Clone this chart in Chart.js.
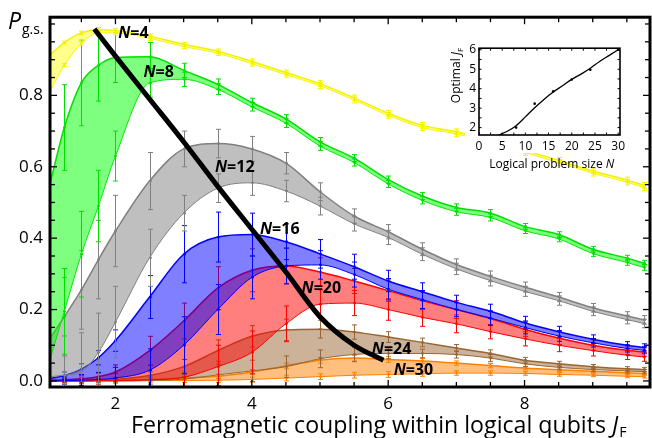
<!DOCTYPE html>
<html>
<head>
<meta charset="utf-8">
<script src="https://cdn.jsdelivr.net/npm/chart.js@4.4.1/dist/chart.umd.min.js"></script>
<style>
  body { margin: 0; background: #fff; }
  #wrap { position: relative; width: 652px; height: 438px; }
  #inset { position: absolute; left: 440px; top: 38px; }
</style>
</head>
<body>
<div id="wrap">
  <canvas id="myChart" width="652" height="438"></canvas>
  <canvas id="inset" width="200" height="135"></canvas>
</div>
<script>
const FONT = "'Open Sans', 'DejaVu Sans', sans-serif";

// coupling J_F where the bands are sampled (points drawn from index 1 on)
const jf = [1.05, 1.25, 1.5, 1.75, 2, 2.5, 3, 3.5, 4, 4.5, 5, 5.5, 6, 6.5, 7, 7.5, 8, 8.5, 9, 9.5, 9.75];

// ground state probability: upper edge, lower edge and error bar half size per problem size
const n4Up  = [0.915, 0.948, 0.975, 0.984, 0.982, 0.966, 0.943, 0.924, 0.895, 0.864, 0.833, 0.793, 0.750, 0.716, 0.698, 0.674, 0.646, 0.618, 0.588, 0.563, 0.548];
const n4Lo  = [0.815, 0.885, 0.945, 0.975, 0.975, 0.960, 0.937, 0.918, 0.889, 0.858, 0.827, 0.787, 0.744, 0.710, 0.692, 0.668, 0.640, 0.612, 0.582, 0.557, 0.542];
const n4Err = [0, 0.004, 0.005, 0.006, 0.006, 0.006, 0.006, 0.006, 0.007, 0.007, 0.008, 0.008, 0.008, 0.008, 0.008, 0.008, 0.008, 0.008, 0.008, 0.008, 0.008];

const n8Up  = [0.560, 0.710, 0.835, 0.884, 0.906, 0.908, 0.870, 0.831, 0.780, 0.734, 0.670, 0.624, 0.564, 0.518, 0.486, 0.470, 0.433, 0.410, 0.369, 0.344, 0.330];
const n8Lo  = [0.067, 0.195, 0.355, 0.490, 0.630, 0.835, 0.845, 0.817, 0.768, 0.722, 0.658, 0.612, 0.552, 0.506, 0.474, 0.458, 0.421, 0.398, 0.357, 0.332, 0.318];
const n8Err = [0, 0.12, 0.12, 0.10, 0.07, 0.04, 0.02, 0.015, 0.012, 0.012, 0.012, 0.01, 0.01, 0.01, 0.01, 0.01, 0.008, 0.008, 0.008, 0.008, 0.008];

const n12Up  = [0.122, 0.180, 0.255, 0.340, 0.420, 0.560, 0.650, 0.665, 0.650, 0.610, 0.530, 0.462, 0.418, 0.369, 0.326, 0.293, 0.263, 0.235, 0.205, 0.182, 0.171];
const n12Lo  = [0.012, 0.016, 0.025, 0.080, 0.165, 0.345, 0.470, 0.540, 0.555, 0.532, 0.490, 0.440, 0.402, 0.355, 0.314, 0.281, 0.251, 0.225, 0.195, 0.172, 0.161];
const n12Err = [0, 0.11, 0.11, 0.11, 0.10, 0.08, 0.05, 0.04, 0.035, 0.03, 0.025, 0.02, 0.02, 0.018, 0.016, 0.015, 0.014, 0.013, 0.012, 0.012, 0.012];

const n16Up  = [0.007, 0.015, 0.033, 0.065, 0.113, 0.235, 0.355, 0.403, 0.410, 0.390, 0.356, 0.320, 0.280, 0.250, 0.220, 0.195, 0.163, 0.138, 0.117, 0.100, 0.094];
const n16Lo  = [0.000, 0.001, 0.002, 0.004, 0.008, 0.030, 0.100, 0.200, 0.290, 0.322, 0.325, 0.298, 0.257, 0.228, 0.200, 0.176, 0.150, 0.126, 0.107, 0.091, 0.086];
const n16Err = [0, 0.01, 0.015, 0.02, 0.03, 0.06, 0.08, 0.07, 0.06, 0.05, 0.04, 0.035, 0.03, 0.025, 0.02, 0.02, 0.018, 0.015, 0.012, 0.01, 0.01];

const n20Up  = [0.002, 0.003, 0.006, 0.012, 0.025, 0.085, 0.168, 0.260, 0.310, 0.322, 0.305, 0.280, 0.253, 0.225, 0.200, 0.175, 0.145, 0.120, 0.100, 0.086, 0.081];
const n20Lo  = [0.000, 0.000, 0.000, 0.001, 0.001, 0.003, 0.010, 0.040, 0.080, 0.160, 0.215, 0.218, 0.200, 0.178, 0.160, 0.138, 0.118, 0.100, 0.085, 0.072, 0.067];
const n20Err = [0, 0.005, 0.008, 0.01, 0.02, 0.04, 0.05, 0.06, 0.06, 0.05, 0.04, 0.035, 0.03, 0.025, 0.025, 0.02, 0.02, 0.018, 0.015, 0.012, 0.012];

const n24Up  = [0.000, 0.000, 0.000, 0.002, 0.004, 0.015, 0.040, 0.085, 0.125, 0.143, 0.145, 0.137, 0.123, 0.108, 0.092, 0.077, 0.058, 0.048, 0.040, 0.034, 0.032];
const n24Lo  = [0.000, 0.000, 0.000, 0.000, 0.000, 0.001, 0.005, 0.017, 0.028, 0.040, 0.062, 0.074, 0.077, 0.077, 0.074, 0.064, 0.048, 0.038, 0.032, 0.028, 0.026];
const n24Err = [0, 0.002, 0.003, 0.004, 0.006, 0.01, 0.02, 0.03, 0.03, 0.03, 0.025, 0.02, 0.015, 0.012, 0.01, 0.01, 0.008, 0.007, 0.006, 0.006, 0.006];

const n30Up  = [0.000, 0.000, 0.000, 0.001, 0.002, 0.004, 0.008, 0.013, 0.025, 0.042, 0.058, 0.064, 0.060, 0.056, 0.050, 0.043, 0.036, 0.031, 0.027, 0.023, 0.021];
const n30Lo  = [0.000, 0.000, 0.000, 0.000, 0.000, 0.001, 0.001, 0.002, 0.004, 0.008, 0.012, 0.016, 0.018, 0.020, 0.022, 0.022, 0.021, 0.018, 0.016, 0.013, 0.012];
const n30Err = [0, 0.002, 0.002, 0.003, 0.003, 0.004, 0.005, 0.006, 0.007, 0.008, 0.008, 0.008, 0.008, 0.007, 0.006, 0.006, 0.005, 0.005, 0.004, 0.004, 0.004];

// optimal coupling curve (thick black)
const optJ = [1.69, 2, 2.5, 3, 3.5, 4, 4.5, 5, 5.5, 5.93];
const optP = [0.986, 0.91, 0.79, 0.67, 0.545, 0.425, 0.305, 0.18, 0.1, 0.058];

// inset: optimal J_F vs logical problem size
const insetN = [8, 12, 16, 20, 24, 30];
const insetJ = [2.0, 3.23, 3.86, 4.47, 4.97, 6.0];
const fitN = [4.3, 6, 8, 10, 12, 14, 16, 18, 20, 22, 24, 26, 28, 30];
const fitJ = [1.62, 1.8, 2.1, 2.55, 3.02, 3.45, 3.83, 4.15, 4.48, 4.75, 5.05, 5.4, 5.7, 6.0];

// ticks
const xTickLabels = [2, 4, 6, 8];
const yTickLabels = [0, 0.2, 0.4, 0.6, 0.8];
const insetXLabels = [0, 5, 10, 15, 20, 25, 30];
const insetYLabels = [2, 3, 4, 5, 6];

const bands = [
  { size: 4,  up: n4Up,  lo: n4Lo,  err: n4Err,  line: '#f2f200', fill: 'rgba(255,255,0,0.45)', at: [2.04, 0.961] },
  { size: 8,  up: n8Up,  lo: n8Lo,  err: n8Err,  line: '#00e000', fill: 'rgba(0,255,0,0.5)',    at: [2.41, 0.852] },
  { size: 12, up: n12Up, lo: n12Lo, err: n12Err, line: '#808080', fill: 'rgba(128,128,128,0.5)', at: [3.46, 0.586] },
  { size: 16, up: n16Up, lo: n16Lo, err: n16Err, line: '#0000ff', fill: 'rgba(0,0,255,0.5)',    at: [4.12, 0.411] },
  { size: 20, up: n20Up, lo: n20Lo, err: n20Err, line: '#ff0000', fill: 'rgba(255,0,0,0.5)',    at: [4.73, 0.246] },
  { size: 24, up: n24Up, lo: n24Lo, err: n24Err, line: '#996633', fill: 'rgba(153,102,51,0.5)', at: [5.76, 0.076] },
  { size: 30, up: n30Up, lo: n30Lo, err: n30Err, line: '#ff8000', fill: 'rgba(255,128,0,0.5)',  at: [6.08, 0.0165] },
];

const datasets = [];
bands.slice().reverse().forEach((b, k) => {
  datasets.push({
    data: jf.map((x, i) => ({ x, y: b.lo[i] })),
    borderColor: b.line, borderWidth: 1, pointRadius: 0, fill: false,
    cubicInterpolationMode: 'monotone', order: 100 - 2 * k,
  });
  datasets.push({
    data: jf.map((x, i) => ({ x, y: b.up[i] })),
    borderColor: b.line, borderWidth: 1.5, pointRadius: 0, fill: '-1',
    backgroundColor: b.fill, cubicInterpolationMode: 'monotone', order: 99 - 2 * k,
    bars: b,
  });
});
datasets.push({
  data: optJ.map((x, i) => ({ x, y: optP[i] })),
  borderColor: '#000', borderWidth: 5, pointRadius: 0, fill: false,
  cubicInterpolationMode: 'monotone', borderCapStyle: 'butt', order: 0,
});

function line(ctx, x0, y0, x1, y1) {
  ctx.beginPath(); ctx.moveTo(x0, y0); ctx.lineTo(x1, y1); ctx.stroke();
}
const near = (list, v) => list.some(t => Math.abs(t - v) < 1e-6);

const decor = {
  id: 'decor',
  afterDatasetDraw(chart, args) {
    const b = chart.data.datasets[args.index].bars;
    if (!b) return;
    const { ctx, chartArea: a, scales: { x, y } } = chart;
    ctx.save();
    ctx.beginPath(); ctx.rect(a.left, a.top, a.right - a.left, a.bottom - a.top); ctx.clip();
    ctx.strokeStyle = b.line; ctx.fillStyle = b.line; ctx.lineWidth = 1;
    for (let i = 1; i < jf.length; i++) {
      const px = Math.round(x.getPixelForValue(jf[i])) + 0.5;
      [b.up[i], b.lo[i]].forEach(v => {
        const y0 = y.getPixelForValue(v - b.err[i]);
        const y1 = y.getPixelForValue(v + b.err[i]);
        ctx.beginPath();
        ctx.moveTo(px, y0); ctx.lineTo(px, y1);
        ctx.moveTo(px - 2.5, y0); ctx.lineTo(px + 2.5, y0);
        ctx.moveTo(px - 2.5, y1); ctx.lineTo(px + 2.5, y1);
        ctx.stroke();
        ctx.beginPath(); ctx.arc(px, y.getPixelForValue(v), 1.4, 0, Math.PI * 2); ctx.fill();
      });
    }
    ctx.restore();
  },
  afterDraw(chart) {
    const { ctx, chartArea: a, scales: { x, y } } = chart;
    ctx.save();
    ctx.strokeStyle = '#000';
    ctx.lineWidth = 1.3;
    x.ticks.forEach(t => {
      const px = x.getPixelForValue(t.value);
      const len = near(xTickLabels, t.value) ? 7 : 5;
      line(ctx, px, a.bottom, px, a.bottom - len);
      line(ctx, px, a.top, px, a.top + len);
    });
    y.ticks.forEach(t => {
      const py = y.getPixelForValue(t.value);
      const len = near(yTickLabels, t.value) ? 7 : 5;
      line(ctx, a.left, py, a.left + len, py);
      line(ctx, a.right, py, a.right - len, py);
    });
    ctx.lineWidth = 3;
    ctx.strokeRect(a.left, a.top, a.right - a.left, a.bottom - a.top);

    // band labels
    ctx.fillStyle = '#000';
    ctx.textBaseline = 'alphabetic';
    bands.forEach(b => {
      const px = x.getPixelForValue(b.at[0]), py = y.getPixelForValue(b.at[1]);
      ctx.font = `italic bold 16px ${FONT}`;
      ctx.fillText('N', px, py);
      const w = ctx.measureText('N').width;
      ctx.font = `bold 16px ${FONT}`;
      ctx.fillText('=' + b.size, px + w, py);
    });

    // y title
    ctx.font = `italic 23px ${FONT}`;
    ctx.fillText('P', 8, 29);
    const pw = ctx.measureText('P').width;
    ctx.font = `14px ${FONT}`;
    ctx.fillText('g.s.', 8 + pw + 1, 34);

    // x title, fitted to the reference width
    const main = 'Ferromagnetic coupling within logical qubits ';
    ctx.font = `21px ${FONT}`;
    const mw = ctx.measureText(main).width;
    ctx.font = `italic 21px ${FONT}`;
    const jw = ctx.measureText('J').width;
    ctx.font = `13px ${FONT}`;
    const fw = ctx.measureText('F').width;
    const s = 21 * 497 / (mw + jw + fw + 2);
    let tx = 131;
    ctx.font = `${s}px ${FONT}`;
    ctx.fillText(main, tx, 433);
    tx += ctx.measureText(main).width;
    ctx.font = `italic ${s}px ${FONT}`;
    ctx.fillText('J', tx, 433);
    tx += ctx.measureText('J').width + 1;
    ctx.font = `${s * 0.62}px ${FONT}`;
    ctx.fillText('F', tx, 437);
    ctx.restore();
  },
};

const xMinor = [];
for (let v = 1.5; v <= 9.5; v += 0.5) xMinor.push(v);
const yMinor = [];
for (let i = 0; i <= 20; i++) yMinor.push(Math.round(i * 5) / 100);

new Chart(document.getElementById('myChart').getContext('2d'), {
  type: 'line',
  data: { datasets },
  options: {
    responsive: false,
    animation: false,
    layout: { padding: { left: 0, top: 11, right: 2, bottom: 0 } },
    plugins: { legend: { display: false }, tooltip: { enabled: false } },
    scales: {
      x: {
        type: 'linear', min: 1.04, max: 9.84,
        afterBuildTicks: s => { s.ticks = xMinor.map(v => ({ value: v })); },
        afterFit: s => { s.height = 51; },
        grid: { display: false, drawTicks: false },
        border: { display: false },
        ticks: {
          autoSkip: false, maxRotation: 0, padding: 7, color: '#000',
          font: { size: 17, family: FONT },
          callback: v => (near(xTickLabels, v) ? String(v) : ''),
        },
      },
      y: {
        type: 'linear', min: -0.017, max: 1.019,
        afterBuildTicks: s => { s.ticks = yMinor.map(v => ({ value: v })); },
        afterFit: s => { s.width = 50; },
        grid: { display: false, drawTicks: false },
        border: { display: false },
        ticks: {
          autoSkip: false, padding: 7, color: '#000',
          font: { size: 17, family: FONT },
          callback: v => (near(yTickLabels, v) ? v.toFixed(1) : ''),
        },
      },
    },
  },
  plugins: [decor],
});

// inset
const insetXTicks = [];
for (let v = 0; v <= 30; v += 2.5) insetXTicks.push(v);
const insetYTicks = [];
for (let v = 2; v <= 6; v += 0.5) insetYTicks.push(v);

const insetDecor = {
  id: 'insetDecor',
  beforeDraw(chart) {
    const { ctx, chartArea: a } = chart;
    ctx.save();
    ctx.fillStyle = '#fff';
    ctx.fillRect(a.left - 14, a.top - 2, a.right - a.left + 16, a.bottom - a.top + 20);
    ctx.restore();
  },
  afterDraw(chart) {
    const { ctx, chartArea: a, scales: { x, y } } = chart;
    ctx.save();
    ctx.strokeStyle = '#000';
    ctx.lineWidth = 1;
    x.ticks.forEach(t => {
      const px = x.getPixelForValue(t.value);
      line(ctx, px, a.bottom, px, a.bottom - 2.5);
      line(ctx, px, a.top, px, a.top + 2.5);
    });
    y.ticks.forEach(t => {
      const py = y.getPixelForValue(t.value);
      line(ctx, a.left, py, a.left + 2.5, py);
      line(ctx, a.right, py, a.right - 2.5, py);
    });
    ctx.lineWidth = 1.6;
    ctx.strokeRect(a.left, a.top, a.right - a.left, a.bottom - a.top);

    ctx.fillStyle = '#000';
    // x title
    ctx.font = `12px ${FONT}`;
    const t1 = 'Logical problem size ';
    const w1 = ctx.measureText(t1).width;
    ctx.font = `italic 12px ${FONT}`;
    const w2 = ctx.measureText('N').width;
    let tx = 111.7 - (w1 + w2) / 2;
    ctx.font = `12px ${FONT}`;
    ctx.fillText(t1, tx, 130);
    ctx.font = `italic 12px ${FONT}`;
    ctx.fillText('N', tx + w1, 130);

    // y title, rotated
    ctx.translate(20, 37.5);
    ctx.rotate(-Math.PI / 2);
    ctx.font = `12px ${FONT}`;
    const t2 = 'Optimal ';
    const v1 = ctx.measureText(t2).width;
    ctx.font = `italic 12px ${FONT}`;
    const v2 = ctx.measureText('J').width;
    ctx.font = `8px ${FONT}`;
    const v3 = ctx.measureText('F').width;
    let ty = -(v1 + v2 + v3) / 2;
    ctx.font = `12px ${FONT}`;
    ctx.fillText(t2, ty, 0);
    ctx.font = `italic 12px ${FONT}`;
    ctx.fillText('J', ty + v1, 0);
    ctx.font = `8px ${FONT}`;
    ctx.fillText('F', ty + v1 + v2, 2.5);
    ctx.restore();
  },
};

new Chart(document.getElementById('inset').getContext('2d'), {
  type: 'line',
  data: {
    datasets: [
      {
        data: fitN.map((x, i) => ({ x, y: fitJ[i] })),
        borderColor: '#000', borderWidth: 1.3, pointRadius: 0, fill: false,
        cubicInterpolationMode: 'monotone',
      },
      {
        data: insetN.map((x, i) => ({ x, y: insetJ[i] })),
        showLine: false, pointRadius: 1.3, pointBorderWidth: 0,
        pointBackgroundColor: '#000',
      },
    ],
  },
  options: {
    responsive: false,
    animation: false,
    layout: { padding: { left: 27, top: 9, right: 20, bottom: 22 } },
    plugins: { legend: { display: false }, tooltip: { enabled: false } },
    scales: {
      x: {
        type: 'linear', min: 0, max: 30.4,
        afterBuildTicks: s => { s.ticks = insetXTicks.map(v => ({ value: v })); },
        afterFit: s => { s.height = 16; },
        grid: { display: false, drawTicks: false },
        border: { display: false },
        ticks: {
          autoSkip: false, maxRotation: 0, padding: 4, color: '#000',
          font: { size: 12, family: FONT },
          callback: v => (near(insetXLabels, v) ? String(v) : ''),
        },
      },
      y: {
        type: 'linear', min: 1.62, max: 6.08,
        afterBuildTicks: s => { s.ticks = insetYTicks.map(v => ({ value: v })); },
        afterFit: s => { s.width = 12; },
        grid: { display: false, drawTicks: false },
        border: { display: false },
        ticks: {
          autoSkip: false, padding: 3, color: '#000',
          font: { size: 12, family: FONT },
          callback: v => (near(insetYLabels, v) ? String(v) : ''),
        },
      },
    },
  },
  plugins: [insetDecor],
});
</script>
</body>
</html>
